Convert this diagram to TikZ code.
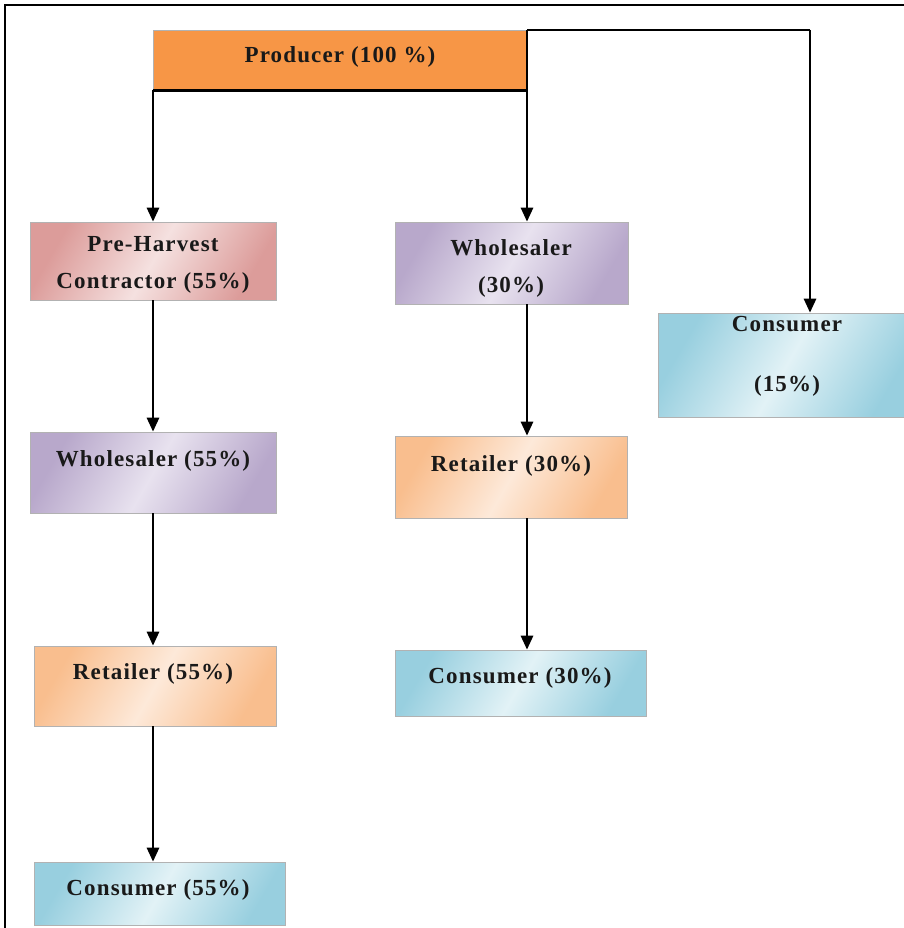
\documentclass[tikz,border=0pt]{standalone}
\usepackage{fontspec}
\setmainfont[LetterSpace=5]{Liberation Serif}
\usetikzlibrary{arrows.meta}
\definecolor{prodorange}{HTML}{F79646}
\definecolor{pinkD}{HTML}{DC9C9A}\definecolor{pinkL}{HTML}{F5E1E0}
\definecolor{purD}{HTML}{B8A8CB}\definecolor{purL}{HTML}{E8E2EF}
\definecolor{peaD}{HTML}{F9BE8E}\definecolor{peaL}{HTML}{FDE9D9}
\definecolor{bluD}{HTML}{98CFDF}\definecolor{bluL}{HTML}{E2F2F6}
\tikzset{
  x=1pt, y=-1pt,
  box/.style={draw=black!30, line width=0.6pt, inner sep=0pt, rectangle},
  pinkbox/.style={box, left color=pinkD, right color=pinkD, middle color=pinkL, shading angle=60},
  purbox/.style={box, left color=purD, right color=purD, middle color=purL, shading angle=60},
  peabox/.style={box, left color=peaD, right color=peaD, middle color=peaL, shading angle=60},
  blubox/.style={box, left color=bluD, right color=bluD, middle color=bluL, shading angle=60},
  txt/.style={font=\fontsize{23}{37}\selectfont\bfseries, align=center, inner sep=0pt, text=black!90},
  arr/.style={line width=2.7pt, -{Triangle[width=12pt,length=14pt]}},
  ln/.style={line width=2.7pt},
}
\begin{document}
\begin{tikzpicture}
\useasboundingbox (0,0) rectangle (903,928);
\fill[white] (0,0) rectangle (903,928);
\draw[line width=1.3pt] (5,5) rectangle (1000,1000);
% boxes
\node[box, fill=prodorange, minimum width=374pt, minimum height=60pt] (prod) at (340,60) {};
\node[txt] (prodt) at (340,57) {Producer (100 \%)};
\node[pinkbox, minimum width=246pt, minimum height=78pt] (phc) at (153,261) {};
\node[txt] (phct) at (153,265) {Pre-Harvest\\Contractor (55\%)};
\node[purbox, minimum width=233pt, minimum height=82pt] (w30) at (511.5,263) {};
\node[txt] (w30t) at (511,268) {Wholesaler\\(30\%)};
\node[blubox, minimum width=257pt, minimum height=104pt] (c15) at (786.5,365) {};
\node[txt] (c15t) at (787,356) {Consumer\\[23pt](15\%)};
\node[purbox, minimum width=246pt, minimum height=81pt] (w55) at (153,472.5) {};
\node[txt] (w55t) at (153,461) {Wholesaler (55\%)};
\node[peabox, minimum width=232pt, minimum height=82pt] (rt30) at (511,477) {};
\node[txt] (rt30t) at (511,466) {Retailer (30\%)};
\node[peabox, minimum width=242pt, minimum height=80pt] (rt55) at (155,686) {};
\node[txt] (rt55t) at (153,674) {Retailer (55\%)};
\node[blubox, minimum width=251pt, minimum height=66pt] (c30) at (520.5,683) {};
\node[txt] (c30t) at (520,678) {Consumer (30\%)};
\node[blubox, minimum width=251pt, minimum height=63pt] (c55) at (159.5,893.5) {};
\node[txt] (c55t) at (158,890) {Consumer (55\%)};
% connectors
\coordinate (pl) at (153,90);
\coordinate (pr) at (527,90);
\coordinate (ptop) at (527,30);
\coordinate (tr) at (810,30);
\draw[ln] (prod.south west) -- (prod.south east);
\draw[arr] (pl) -- (pl |- phc.north);
\draw[arr] (ptop) -- (pr) -- (pr |- w30.north);
\draw[line width=1.6pt] (ptop) -- (tr);
\draw[arr] (tr) -- (tr |- c15.north);
\draw[arr] (phc.south) -- (phc.south |- w55.north);
\draw[arr] (w55.south) -- (w55.south |- rt55.north);
\draw[arr] (w55.south |- rt55.south) -- (w55.south |- c55.north);
\draw[arr] (pr |- w30.south) -- (pr |- rt30.north);
\draw[arr] (pr |- rt30.south) -- (pr |- c30.north);
\end{tikzpicture}
\end{document}
